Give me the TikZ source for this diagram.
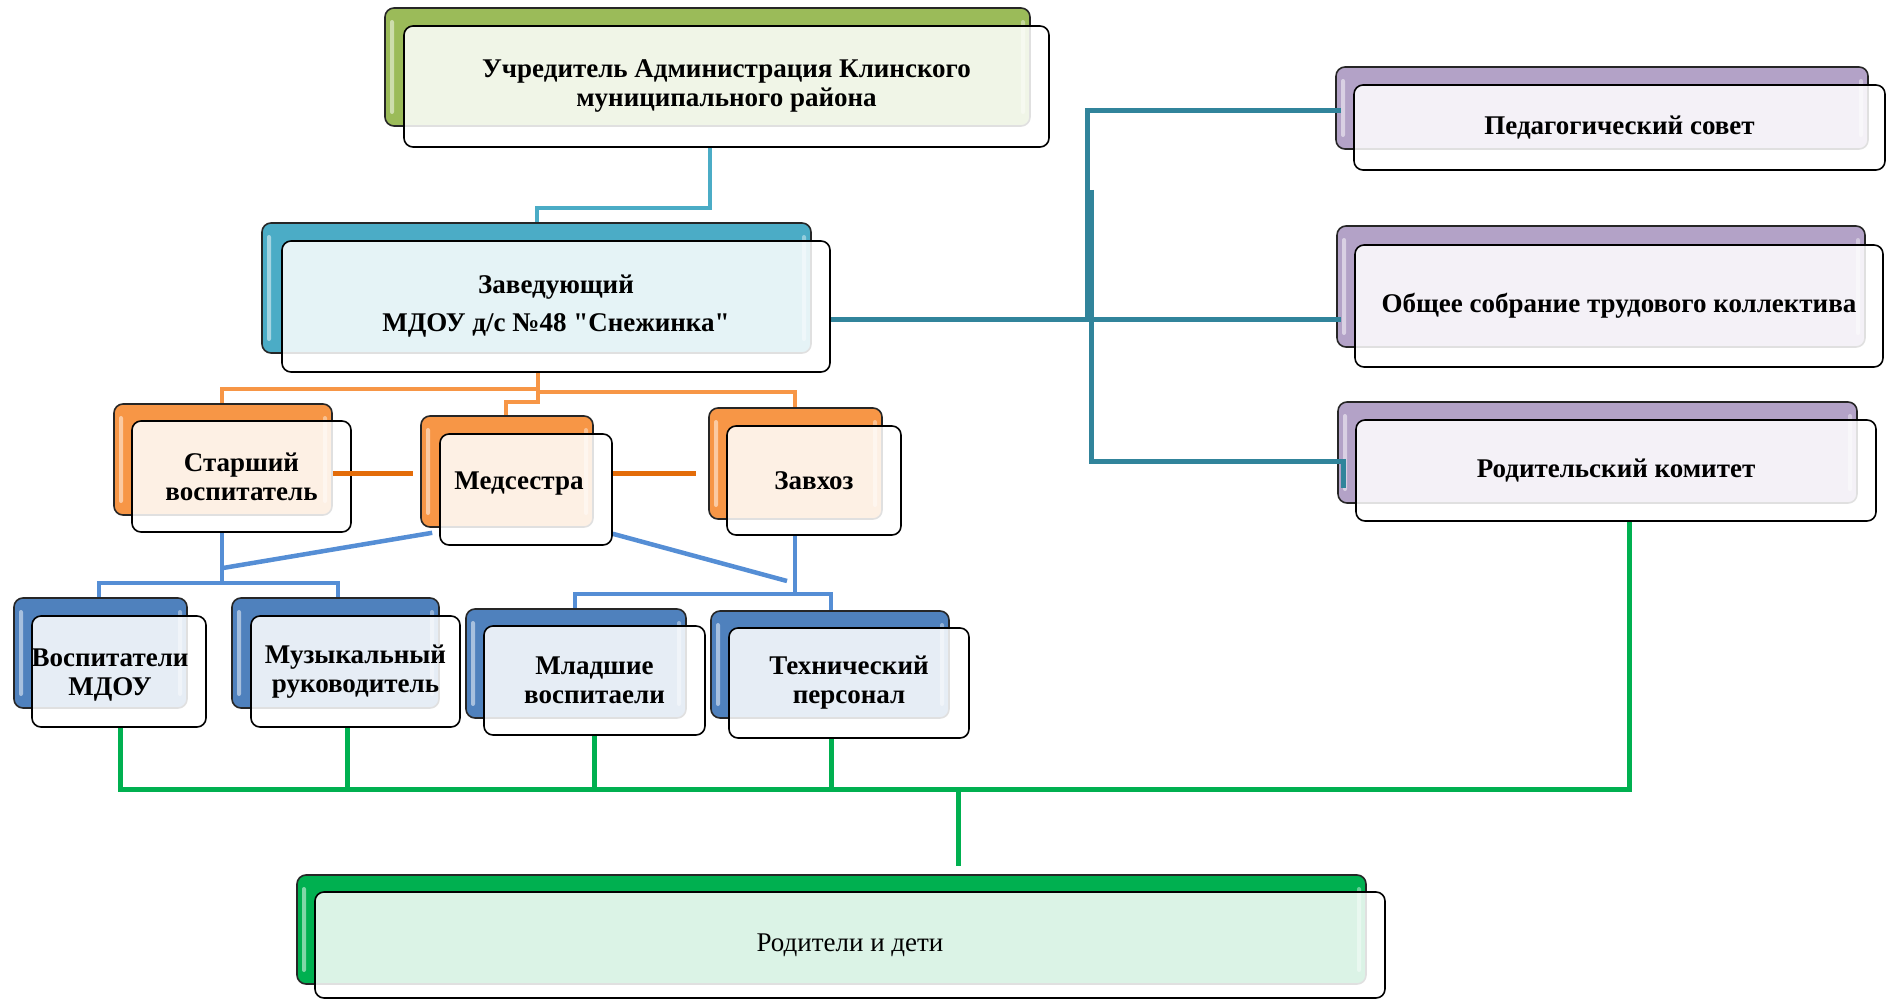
\documentclass[tikz,border=0pt]{standalone}
\usepackage{fontspec}
\setmainfont{Liberation Serif}
\usetikzlibrary{backgrounds,calc}
\definecolor{cGreen}{HTML}{9BBB59}
\definecolor{cAqua}{HTML}{4BACC6}
\definecolor{cOrange}{HTML}{F79646}
\definecolor{cBlue}{HTML}{4F81BD}
\definecolor{cLav}{HTML}{B3A2C7}
\definecolor{cBright}{HTML}{00B050}
\definecolor{cTeal}{HTML}{31849B}
\definecolor{cDOrange}{HTML}{E36C09}
\definecolor{cLine}{HTML}{558ED5}
\newcommand{\boxfont}{\fontsize{27}{29}\selectfont\bfseries}
\newcommand{\straightdq}{\XeTeXglyph\XeTeXcharglyph"22\relax}
\begin{document}
\begin{tikzpicture}[x=1pt,y=-1pt,
  bk/.style={draw=black!85,line width=1.6pt,rounded corners=9pt,inner sep=0pt,
    path picture={
      \fill[white,opacity=.5,rounded corners=2pt] ([xshift=5pt,yshift=-12pt]path picture bounding box.north west) rectangle ([xshift=9pt,yshift=12pt]path picture bounding box.south west);
      \fill[white,opacity=.4,rounded corners=2pt] ([xshift=-5pt,yshift=-12pt]path picture bounding box.north east) rectangle ([xshift=-9pt,yshift=12pt]path picture bounding box.south east);}},
  fr/.style={draw=black,line width=1.6pt,rounded corners=9pt,fill=white,fill opacity=.86,text opacity=1,inner sep=0pt,align=center,font=\boxfont},
  tealL/.style={draw=cAqua,line width=4pt},
  tealD/.style={draw=cTeal,line width=5pt},
  orangeL/.style={draw=cOrange,line width=4pt},
  orangeD/.style={draw=cDOrange,line width=5pt},
  blueL/.style={draw=cLine,line width=4.5pt},
  greenL/.style={draw=cBright,line width=5pt}
]
\useasboundingbox (0,0) rectangle (1887,1000);

% Uchreditel
\node[bk,fill=cGreen,minimum width=645pt,minimum height=118pt] (ub) at (707.5,67) {};
\node[fr,minimum width=645pt,minimum height=121pt] (u) at (726.5,86.5) {Учредитель Администрация Клинского\\муниципального района};
% Zaveduyushchiy
\node[bk,fill=cAqua,minimum width=549pt,minimum height=130pt] (zb) at (536.5,288) {};
\node[fr,minimum width=548pt,minimum height=131pt] (z) at (556,306.5) {Заведующий\\[9pt]МДОУ д/с №48 \straightdq Снежинка\straightdq};
% Middle row
\node[bk,fill=cOrange,minimum width=218pt,minimum height=111pt] (stb) at (223,459.5) {};
\node[fr,minimum width=219pt,minimum height=111pt] (st) at (241.5,476.5) {Старший\\воспитатель};
\node[bk,fill=cOrange,minimum width=172pt,minimum height=111pt] (medb) at (507,471.5) {};
\node[fr,minimum width=172pt,minimum height=111pt,label={[font=\boxfont,xshift=-7pt,yshift=6pt]center:Медсестра}] (med) at (526,489.5) {};
\node[bk,fill=cOrange,minimum width=173pt,minimum height=111pt] (zavb) at (795.5,463.5) {};
\node[fr,minimum width=174pt,minimum height=109pt] (zav) at (814,480.5) {Завхоз};
% Bottom row
\node[bk,fill=cBlue,minimum width=173pt,minimum height=110pt] (vosb) at (100.5,653) {};
\node[fr,minimum width=174pt,minimum height=111pt,label={[align=center,font=\boxfont,xshift=-9pt,yshift=-4pt]center:Воспитатели\\МДОУ}] (vos) at (119,671.5) {};
\node[bk,fill=cBlue,minimum width=207pt,minimum height=110pt] (muzb) at (335.5,653) {};
\node[fr,minimum width=209pt,minimum height=111pt] (muz) at (355.5,671.5) {Музыкальный\\руководитель};
\node[bk,fill=cBlue,minimum width=220pt,minimum height=109pt] (mlb) at (576,663.5) {};
\node[fr,minimum width=221pt,minimum height=109pt] (ml) at (594.5,680.5) {Младшие\\воспитаели};
\node[bk,fill=cBlue,minimum width=238pt,minimum height=107pt] (tehb) at (830,664.5) {};
\node[fr,minimum width=240pt,minimum height=110pt] (teh) at (849,683) {Технический\\персонал};
% Right column
\node[bk,fill=cLav,minimum width=532pt,minimum height=82pt] (pedb) at (1602,108) {};
\node[fr,minimum width=531pt,minimum height=85pt] (ped) at (1619.5,127.5) {Педагогический совет};
\node[bk,fill=cLav,minimum width=528pt,minimum height=121pt] (obsb) at (1601,286.5) {};
\node[fr,minimum width=528pt,minimum height=122pt] (obs) at (1619,306) {Общее собрание трудового коллектива};
\node[bk,fill=cLav,minimum width=519pt,minimum height=101pt] (rkb) at (1597.5,452.5) {};
\node[fr,minimum width=520pt,minimum height=101pt] (rk) at (1616,470.5) {Родительский комитет};
% Parents
\node[bk,fill=cBright,minimum width=1069pt,minimum height=109pt] (rdb) at (831.5,929.5) {};
\node[fr,minimum width=1070pt,minimum height=106pt,font=\fontsize{27}{29}\selectfont] (rd) at (850,945) {Родители и дети};

\begin{pgfonlayer}{background}
% light teal
\coordinate (t1) at (710,208);
\coordinate (t2) at (537,208);
\draw[tealL] (u.south -| t1) -- (t1) -- (t2) -- (t2 |- zb.north);
% orange
\coordinate (oC) at (538,389);
\coordinate (oC2) at (538,392);
\coordinate (oL) at (222,389);
\coordinate (oR) at (795,392);
\coordinate (oM1) at (538,402);
\coordinate (oM2) at (506,402);
\draw[orangeL] (z.south -| oC) -- (oC) -- (oL) -- (oL |- stb.north);
\draw[orangeL] (oC) -- (oM1) -- (oM2) -- (oM2 |- medb.north);
\draw[orangeL] (oC2) -- (oR) -- (oR |- zavb.north);
% blue
\coordinate (b1) at (222,583);
\coordinate (bL) at (99,583);
\coordinate (bR) at (338,583);
\draw[blueL] (st.south -| b1) -- (b1);
\draw[blueL] (bL |- vosb.north) -- (bL) -- (bR) -- (bR |- muzb.north);
\coordinate (b2) at (223,568);
\draw[blueL] ([xshift=12pt,yshift=-5pt]medb.south west) -- (b2);
\coordinate (b3) at (787,581);
\draw[blueL] ([yshift=12pt]med.south east) -- (b3);
\coordinate (b4) at (795,594);
\coordinate (b5) at (575,594);
\coordinate (b6) at (831,594);
\draw[blueL] (zav.south -| b4) -- (b4);
\draw[blueL] (b5 |- mlb.north) -- (b5) -- (b6) -- (b6 |- tehb.north);
% green
\coordinate (g0) at (120,789);
\coordinate (g1) at (347,789);
\coordinate (g2) at (594,789);
\coordinate (g3) at (831,789);
\coordinate (g4) at (1629,789);
\coordinate (g5) at (958,789);
\coordinate (g6) at (958,866);
\draw[greenL] (vos.south -| g0) -- (g0) -- (g4) -- (g4 |- rk.south);
\draw[greenL] (muz.south -| g1) -- (g1);
\draw[greenL] (ml.south -| g2) -- (g2);
\draw[greenL] (teh.south -| g3) -- (g3);
\draw[greenL] (g5) -- (g6);
\end{pgfonlayer}

% dark teal (over box edges)
\coordinate (k1) at (1087,111);
\coordinate (k2) at (1087,319);
\coordinate (k3) at (1091,190);
\coordinate (k4) at (1091,461);
\coordinate (k5) at (1343,488);
\draw[tealD] ([xshift=6pt]pedb.west |- k1) -- (k1) -- (k2);
\draw[tealD] (z.east |- k2) -- ([xshift=5pt]obsb.west |- k2);
\draw[tealD] (k3) -- (k4) -- (k5 |- k4) -- (k5);
% dark orange
\coordinate (d1) at (413,473);
\coordinate (d3) at (696,473);
\draw[orangeD] (stb.east |- d1) -- (d1);
\draw[orangeD] (med.east |- d3) -- (d3);
\end{tikzpicture}
\end{document}
